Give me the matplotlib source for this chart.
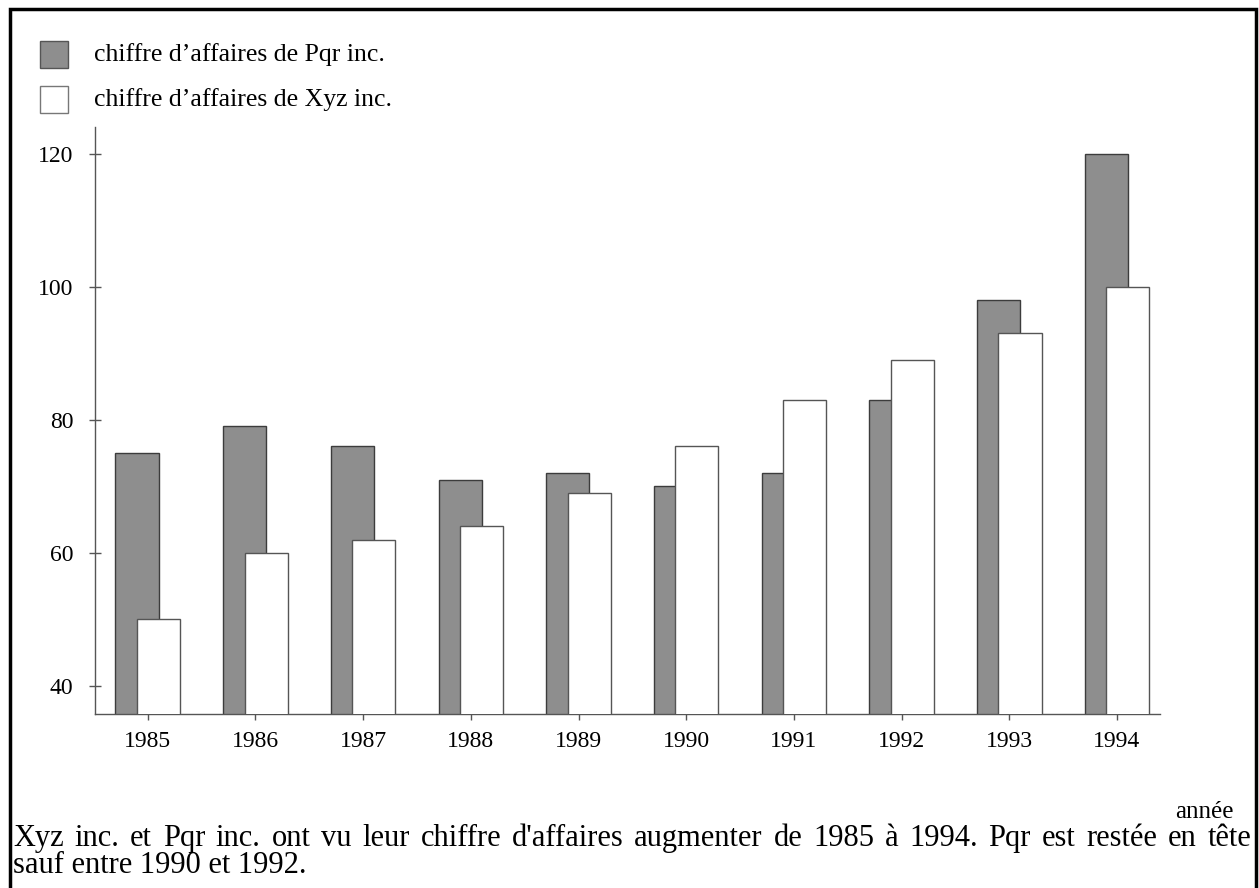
import numpy as np
from matplotlib import pyplot as plt
from matplotlib.patches import Rectangle

years = ['1985', '1986', '1987', '1988', '1989', '1990', '1991', '1992', '1993', '1994']
pqr = [75, 79, 76, 71, 72, 70, 72, 83, 98, 120]
xyz = [50, 60, 62, 64, 69, 76, 83, 89, 93, 100]
yticks = [40, 60, 80, 100, 120]
label_pqr = 'chiffre d\u2019affaires de Pqr inc.'
label_xyz = 'chiffre d\u2019affaires de Xyz inc.'
caption1 = ("Xyz inc. et Pqr inc. ont vu leur chiffre d'affaires augmenter de 1985 \u00e0 1994. "
            "Pqr est rest\u00e9e en t\u00eate")
caption2 = "sauf entre 1990 et 1992."

plt.rcParams['font.family'] = ['Liberation Serif', 'DejaVu Serif']

W, H = 1259.0, 888.0
fig = plt.figure(figsize=(12.59, 8.88), dpi=100)
ax = fig.add_axes([95 / W, 1 - 714 / H, (1160 - 95) / W, (714 - 127) / H])

x = np.arange(len(years))
w = 0.4
ax.bar(x - 0.1, pqr, w, bottom=0, color='#8e8e8e', edgecolor='#3c3c3c', linewidth=1, zorder=2)
ax.bar(x + 0.1, xyz, w, bottom=0, color='white', edgecolor='#555555', linewidth=1, zorder=3)

ax.set_xlim(-0.49, 9.40)
ax.set_ylim(35.8, 124)
ax.set_xticks(x)
ax.set_xticklabels(years, fontsize=17)
ax.set_yticks(yticks)
ax.set_yticklabels([str(v) for v in yticks], fontsize=17)
ax.tick_params(axis='y', direction='inout', length=9, width=1, color='#555555', pad=11)
ax.tick_params(axis='x', direction='out', length=4, width=1, color='#555555', pad=8)
for s in ['top', 'right']:
    ax.spines[s].set_visible(False)
for s in ['left', 'bottom']:
    ax.spines[s].set_color('#555555')
    ax.spines[s].set_linewidth(1)

# legend boxes drawn in figure pixels
fig.add_artist(Rectangle((40 / W, 1 - 68 / H), 28 / W, 27 / H, transform=fig.transFigure,
                         facecolor='#8e8e8e', edgecolor='#555555', linewidth=1))
fig.add_artist(Rectangle((40 / W, 1 - 113 / H), 28 / W, 27 / H, transform=fig.transFigure,
                         facecolor='white', edgecolor='#777777', linewidth=1))
fig.text(94 / W, 1 - 55 / H, label_pqr, fontsize=18.5, va='center', ha='left')
fig.text(94 / W, 1 - 100 / H, label_xyz, fontsize=18.5, va='center', ha='left')

fig.text(1204 / W, 1 - 812 / H, 'ann\u00e9e', fontsize=18, va='center', ha='center')

# caption: first line justified between the frame edges
renderer = fig.canvas.get_renderer()
words = caption1.split(' ')
txts = [fig.text(0, 1 - 846 / H, wd, fontsize=22, va='baseline', ha='left') for wd in words]
widths = [t.get_window_extent(renderer).width for t in txts]
left, right = 13.0, 1251.0
gap = (right - left - sum(widths)) / (len(words) - 1)
pos = left
for t, wd in zip(txts, widths):
    t.set_x(pos / W)
    pos += wd + gap
fig.text(left / W, 1 - 873 / H, caption2, fontsize=22, va='baseline', ha='left')

# frame around the figure
fig.add_artist(Rectangle((9.5 / W, -0.05), (1256 - 9.5) / W, 0.05 + (H - 8.5) / H,
                         transform=fig.transFigure, fill=False, edgecolor='black', linewidth=2.5,
                         clip_on=False))

plt.savefig('out.png', dpi=100)
